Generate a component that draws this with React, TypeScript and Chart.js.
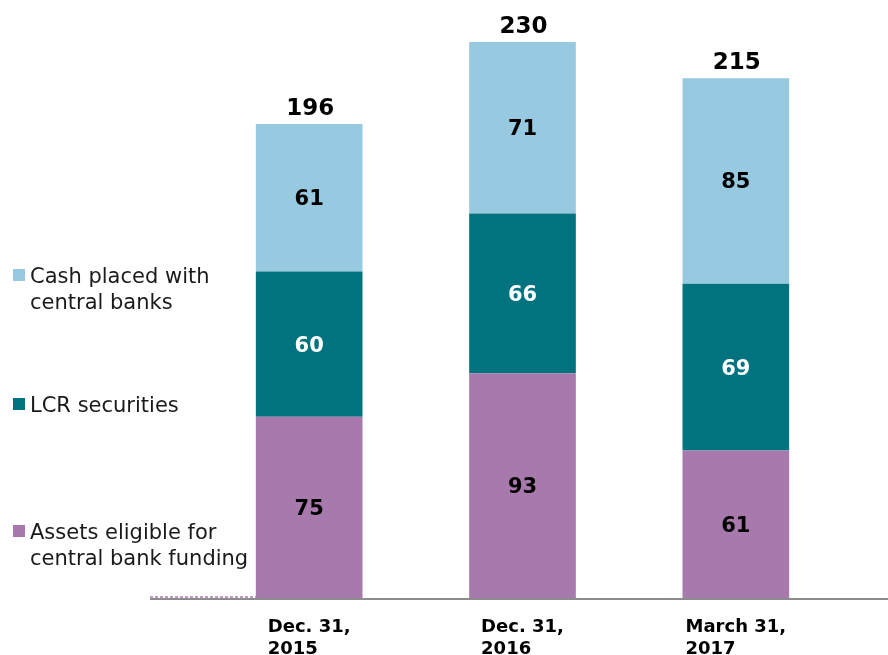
import React, { useEffect, useRef } from "react";
import { Chart, registerables } from "chart.js";

Chart.register(...registerables);

const categories: string[][] = [
  ["Dec. 31,", "2015"],
  ["Dec. 31,", "2016"],
  ["March 31,", "2017"],
];
const assetsEligible = [75, 93, 61];
const lcrSecurities = [60, 66, 69];
const cashCentral = [61, 71, 85];

const seriesLines: string[][] = [
  ["Assets eligible for", "central bank funding"],
  ["LCR securities"],
  ["Cash placed with", "central banks"],
];
const seriesColors = ["#a779ad", "#00737f", "#97c9e1"];
const labelColors = ["#000000", "#ffffff", "#000000"];
const legendCenterY = [531, 404, 275];

const FONT = "'DejaVu Sans', Verdana, sans-serif";

const overlayPlugin = {
  id: "overlay",
  afterDatasetsDraw(chart: any) {
    const ctx = chart.ctx as CanvasRenderingContext2D;
    const area = chart.chartArea;
    ctx.save();

    // axis line
    ctx.strokeStyle = "#8c8c8c";
    ctx.lineWidth = 2;
    ctx.beginPath();
    ctx.moveTo(150, area.bottom + 1);
    ctx.lineTo(888, area.bottom + 1);
    ctx.stroke();
    // small dashed artifact at left
    ctx.strokeStyle = "#a779ad";
    ctx.setLineDash([3, 2]);
    ctx.lineWidth = 1.5;
    ctx.beginPath();
    ctx.moveTo(150, area.bottom - 1);
    ctx.lineTo(256, area.bottom - 1);
    ctx.stroke();
    ctx.setLineDash([]);

    // segment labels
    const n = chart.data.labels.length;
    ctx.textAlign = "center";
    ctx.textBaseline = "middle";
    ctx.font = `bold 21px ${FONT}`;
    chart.data.datasets.forEach((ds: any, di: number) => {
      const meta = chart.getDatasetMeta(di);
      meta.data.forEach((bar: any, j: number) => {
        ctx.fillStyle = labelColors[di];
        ctx.fillText(String(ds.data[j]), bar.x, (bar.y + bar.base) / 2 + 2);
      });
    });

    // totals
    ctx.font = `bold 23px ${FONT}`;
    ctx.fillStyle = "#000000";
    ctx.textBaseline = "alphabetic";
    const topMeta = chart.getDatasetMeta(chart.data.datasets.length - 1);
    for (let j = 0; j < n; j++) {
      let total = 0;
      chart.data.datasets.forEach((ds: any) => (total += ds.data[j]));
      const bar: any = topMeta.data[j];
      ctx.fillText(String(total), bar.x + 1, bar.y - 9);
    }

    // category labels (left-aligned block centered on bar)
    const xScale = chart.scales.x;
    ctx.font = `bold 18px ${FONT}`;
    ctx.textAlign = "left";
    ctx.textBaseline = "alphabetic";
    chart.data.labels.forEach((lab: string[], j: number) => {
      const cx = xScale.getPixelForValue(j);
      const w = ctx.measureText(lab[0]).width;
      const x0 = cx - w / 2;
      lab.forEach((line, k) => {
        ctx.fillText(line, x0, 632 + k * 22);
      });
    });

    // legend
    ctx.font = `21px ${FONT}`;
    ctx.textBaseline = "alphabetic";
    seriesLines.forEach((lines, i) => {
      const cy = legendCenterY[i];
      ctx.fillStyle = seriesColors[i];
      ctx.fillRect(13, cy - 6, 12, 12);
      ctx.fillStyle = "#1a1a1a";
      lines.forEach((line, k) => {
        ctx.fillText(line, 30, cy + 8 + k * 26);
      });
    });

    ctx.restore();
  },
};

export default function App() {
  const ref = useRef<HTMLCanvasElement | null>(null);
  useEffect(() => {
    document.body.style.margin = "0";
    const canvas = ref.current;
    if (!canvas) return;
    const chart = new Chart(canvas, {
      type: "bar",
      data: {
        labels: categories as any,
        datasets: [
          { label: seriesLines[0].join(" "), data: assetsEligible, backgroundColor: seriesColors[0] },
          { label: seriesLines[1].join(" "), data: lcrSecurities, backgroundColor: seriesColors[1] },
          { label: seriesLines[2].join(" "), data: cashCentral, backgroundColor: seriesColors[2] },
        ],
      },
      options: {
        animation: false,
        responsive: false,
        maintainAspectRatio: false,
        layout: { padding: { left: 202.5, right: 45.5, top: 17.7, bottom: 57 } },
        datasets: { bar: { barPercentage: 0.5, categoryPercentage: 1, borderWidth: 0 } },
        plugins: { legend: { display: false }, tooltip: { enabled: false } },
        scales: {
          x: { stacked: true, display: false },
          y: { stacked: true, display: false, min: 0, max: 240 },
        },
      },
      plugins: [overlayPlugin],
    });
    return () => chart.destroy();
  }, []);
  return <canvas ref={ref} width={888} height={655} style={{ display: "block" }} />;
}
